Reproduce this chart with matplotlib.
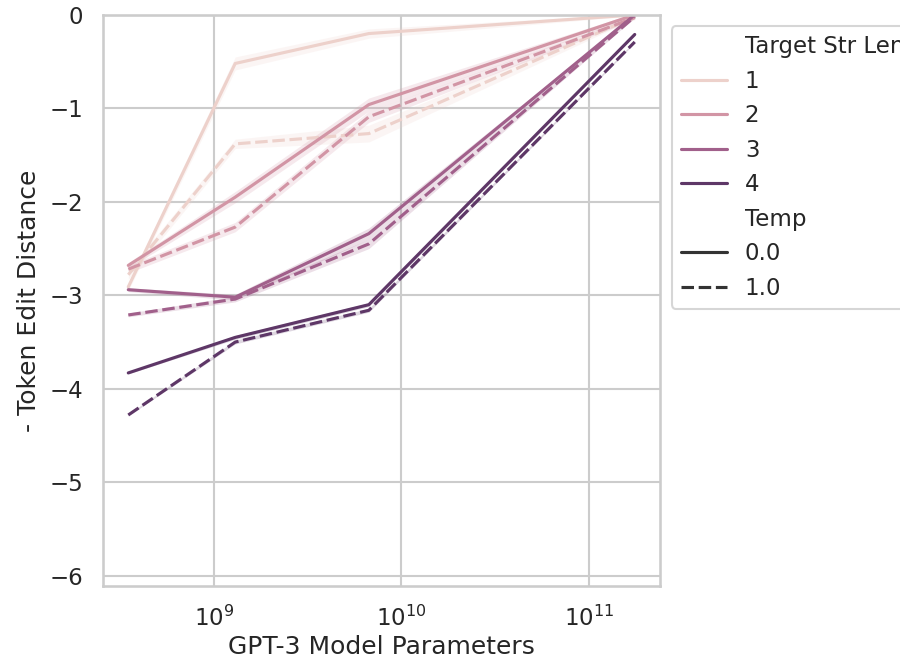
import numpy as np
import pandas as pd
import matplotlib
matplotlib.use("Agg")
import matplotlib.pyplot as plt
import seaborn as sns

# ---- data ----
model_params = [3.5e8, 1.3e9, 6.7e9, 1.75e11]
target_lens = [1, 2, 3, 4]
temps = [0.0, 1.0]

# mean of "- Token Edit Distance" per (target len, temp)
len1_t0 = [-2.91, -0.52, -0.20, 0.00]
len1_t1 = [-2.78, -1.38, -1.27, -0.02]
len2_t0 = [-2.68, -1.95, -0.96, 0.00]
len2_t1 = [-2.72, -2.27, -1.09, -0.03]
len3_t0 = [-2.94, -3.02, -2.34, 0.00]
len3_t1 = [-3.21, -3.04, -2.45, -0.02]
len4_t0 = [-3.83, -3.45, -3.10, -0.21]
len4_t1 = [-4.28, -3.50, -3.16, -0.29]

# approximate confidence-band half widths
ci1_t0 = [0.04, 0.07, 0.05, 0.01]
ci1_t1 = [0.05, 0.05, 0.09, 0.02]
ci2_t0 = [0.03, 0.06, 0.07, 0.02]
ci2_t1 = [0.04, 0.05, 0.06, 0.02]
ci3_t0 = [0.02, 0.03, 0.06, 0.01]
ci3_t1 = [0.02, 0.03, 0.05, 0.01]
ci4_t0 = [0.01, 0.02, 0.02, 0.01]
ci4_t1 = [0.01, 0.02, 0.02, 0.01]

series = {
    (1, 0.0): (len1_t0, ci1_t0), (1, 1.0): (len1_t1, ci1_t1),
    (2, 0.0): (len2_t0, ci2_t0), (2, 1.0): (len2_t1, ci2_t1),
    (3, 0.0): (len3_t0, ci3_t0), (3, 1.0): (len3_t1, ci3_t1),
    (4, 0.0): (len4_t0, ci4_t0), (4, 1.0): (len4_t1, ci4_t1),
}

rows = []
for (L, T), (vals, _) in series.items():
    for x, v in zip(model_params, vals):
        rows.append({"GPT-3 Model Parameters": x, "Target Str Len": L,
                     "Temp": T, "- Token Edit Distance": v})
df = pd.DataFrame(rows)

sns.set_theme(style="whitegrid")
DPI = 150
fig = plt.figure(figsize=(900 / DPI, 660 / DPI), dpi=DPI)
ax = fig.add_axes([0.1144, 0.112, 0.619, 0.8655])

hue_norm = (1, 4.7)
sns.lineplot(data=df, x="GPT-3 Model Parameters", y="- Token Edit Distance",
             hue="Target Str Len", style="Temp", legend="full", ax=ax,
             errorbar=None, hue_norm=hue_norm)

cmap = sns.color_palette("ch:", as_cmap=True)
norm = matplotlib.colors.Normalize(vmin=hue_norm[0], vmax=hue_norm[1])
for (L, T), (vals, ci) in series.items():
    v = np.array(vals)
    c = np.array(ci)
    ax.fill_between(model_params, v - c, v + c, color=cmap(norm(L)),
                    alpha=0.2, linewidth=0, zorder=1.5)

ax.set_xscale("log")
ax.set_ylim(-6.11, 0)
ax.set_yticks([0, -1, -2, -3, -4, -5, -6])
ax.xaxis.labelpad = 2
sns.move_legend(ax, "upper left", bbox_to_anchor=(1, 1))

fig.savefig("out.png", dpi=DPI)
